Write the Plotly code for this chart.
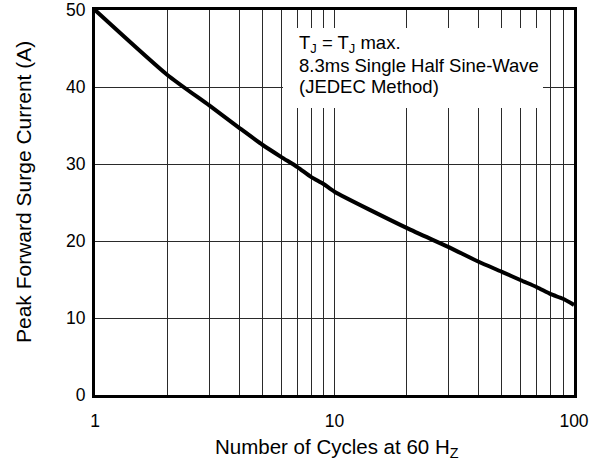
import plotly.graph_objects as go

cycles = [1, 2, 3, 4, 5, 6, 7, 8, 9, 10, 20, 30, 40, 50, 60, 70, 80, 90, 100]
surge_current = [50, 41.6, 37.6, 34.7, 32.5, 30.9, 29.6, 28.3, 27.4, 26.4,
                 21.7, 19.2, 17.3, 16.0, 14.9, 14.0, 13.1, 12.5, 11.7]

x_ticks = [1, 10, 100]
x_minor_grid = [2, 3, 4, 5, 6, 7, 8, 9, 20, 30, 40, 50, 60, 70, 80, 90]
y_ticks = [0, 10, 20, 30, 40, 50]

FONT = "Liberation Sans, Arial, Helvetica, sans-serif"
GRID = "#2a2a2a"

fig = go.Figure()
fig.add_trace(go.Scatter(
    x=cycles, y=surge_current, mode="lines",
    line=dict(color="black", width=4, shape="spline", smoothing=0.6),
    hoverinfo="skip", showlegend=False,
))

fig.update_layout(
    width=598, height=462,
    margin=dict(l=95, r=24, t=10, b=67, autoexpand=False),
    paper_bgcolor="white", plot_bgcolor="white",
    font=dict(family=FONT, size=17.5, color="black"),
    xaxis=dict(
        type="log", range=[0, 2], automargin=False,
        tickvals=x_ticks, ticktext=[str(v) for v in x_ticks],
        showgrid=True, gridcolor=GRID, gridwidth=1,
        minor=dict(tickvals=x_minor_grid, showgrid=True, gridcolor=GRID,
                   gridwidth=1, ticks=""),
        showline=True, linecolor="black", linewidth=3, mirror=True,
        ticks="", zeroline=False, ticklabelstandoff=8,
        tickfont=dict(size=17.5),
    ),
    yaxis=dict(
        range=[0, 50], tickvals=y_ticks, automargin=False,
        showgrid=True, gridcolor=GRID, gridwidth=1,
        showline=True, linecolor="black", linewidth=3, mirror=True,
        ticks="", zeroline=False, ticklabelstandoff=3,
        tickfont=dict(size=17.5),
    ),
)

# white legend box covering grid
fig.add_shape(type="rect", xref="paper", yref="paper",
              x0=(283 - 95) / 479, x1=(543 - 95) / 479,
              y0=(395 - 108) / 385, y1=(395 - 28) / 385,
              fillcolor="white", line=dict(width=0), layer="above")

lines = ["T<sub>J</sub> = T<sub>J</sub> max.",
         "8.3ms Single Half Sine-Wave",
         "(JEDEC Method)"]
ys = [44, 65, 87]
for t, yy in zip(lines, ys):
    fig.add_annotation(text=t, xref="paper", yref="paper",
                       x=(297 - 95) / 479, y=(395 - yy) / 385,
                       xanchor="left", yanchor="middle", showarrow=False,
                       font=dict(size=18.5))

fig.add_annotation(text="Number of Cycles at 60 H<sub>Z</sub>",
                   xref="paper", yref="paper",
                   x=(337 - 95) / 479, y=(395 - 448) / 385,
                   xanchor="center", yanchor="middle", showarrow=False,
                   font=dict(size=20.5))
fig.add_annotation(text="Peak Forward Surge Current (A)",
                   xref="paper", yref="paper",
                   x=(23 - 95) / 479, y=(395 - 192) / 385,
                   xanchor="center", yanchor="middle", showarrow=False,
                   textangle=-90, font=dict(size=21))

fig.write_html("out.html", config={"displayModeBar": False},
               post_script="document.body.style.margin='0';document.body.style.overflow='hidden';")
